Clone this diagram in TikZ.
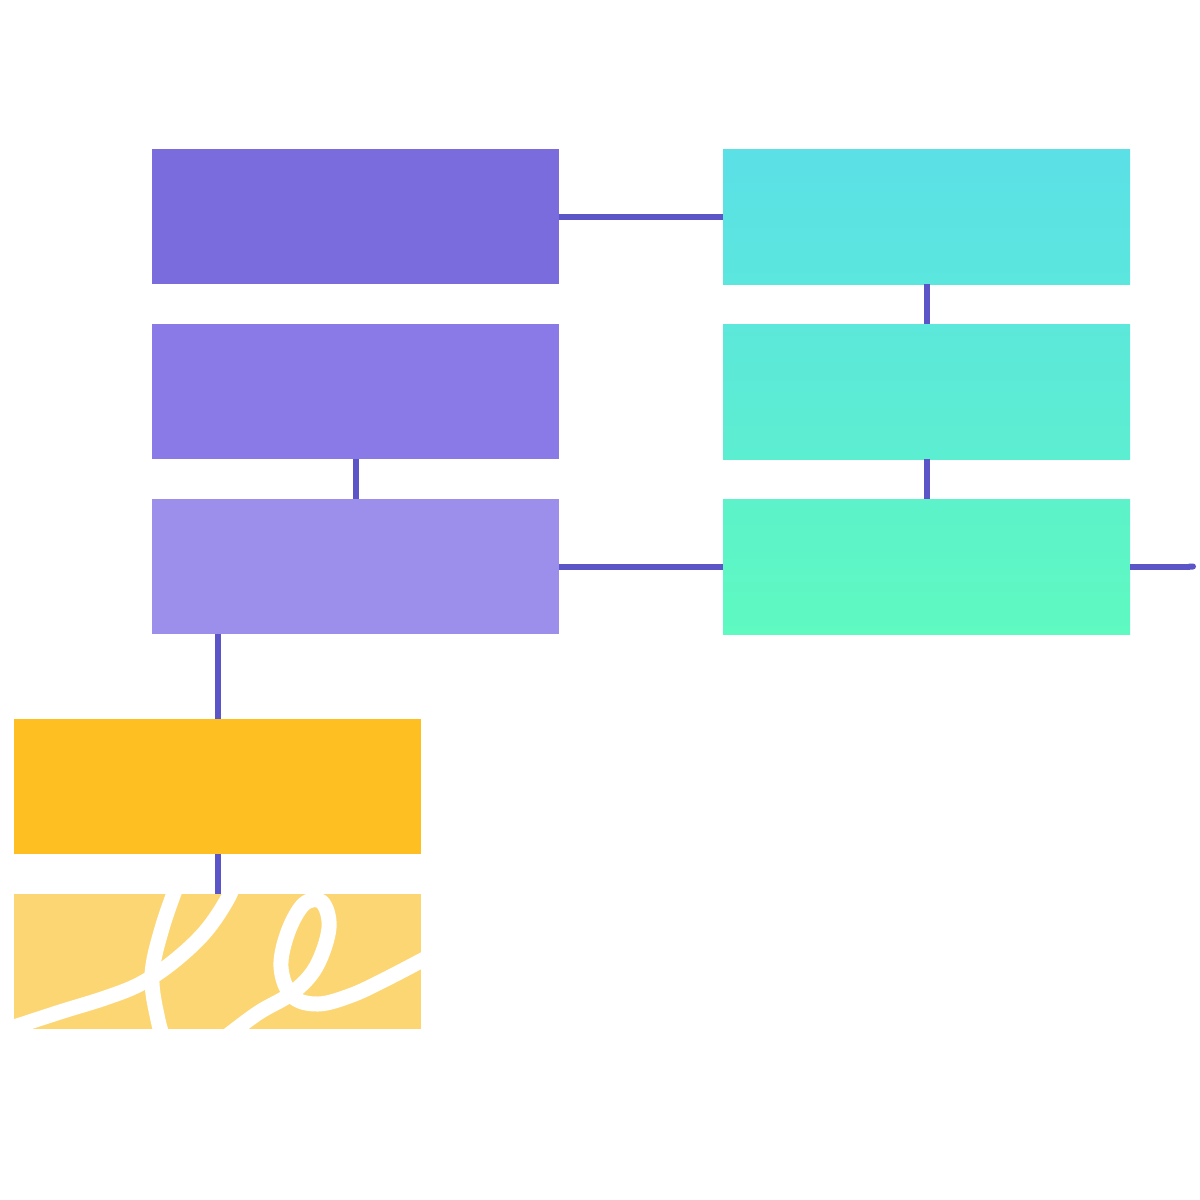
\documentclass[tikz,border=0pt]{standalone}
\usetikzlibrary{arrows.meta}

\definecolor{linkblue}{HTML}{5B55C8}
\definecolor{violetA}{HTML}{7B6CDD}
\definecolor{violetB}{HTML}{8A7AE8}
\definecolor{violetC}{HTML}{9B8FEB}
\definecolor{aquaAtop}{HTML}{5BE0E6}
\definecolor{aquaAbot}{HTML}{5BE6DE}
\definecolor{aquaBtop}{HTML}{5CE8DA}
\definecolor{aquaBbot}{HTML}{5CEED1}
\definecolor{aquaCtop}{HTML}{5DF2CA}
\definecolor{aquaCbot}{HTML}{5EFAC1}
\definecolor{amberA}{HTML}{FEBF22}
\definecolor{amberB}{HTML}{FDD674}

\begin{document}
\begin{tikzpicture}[x=0.5pt,y=-0.5pt,line width=3pt,draw=linkblue]
    \tikzstyle{block}=[rectangle,minimum width=203.5pt,minimum height=67.5pt,inner sep=0pt,outer sep=0pt]
    \tikzstyle{violet block}=[block]
    \tikzstyle{aqua block}=[block]
    \tikzstyle{amber block}=[block]
    \tikzstyle{scribble}=[white,line width=7.5pt,line cap=round,line join=round]

    \useasboundingbox (0,0) rectangle (1200,1200);

    % Left column
    \node[violet block,fill=violetA] (P-1) at (355.5,216.5) {};
    \node[violet block,fill=violetB] (P-2) at (355.5,391.5) {};
    \node[violet block,fill=violetC] (P-3) at (355.5,566.5) {};

    % Right column
    \foreach \name / \y / \c in {1/216.5/A,2/391.5/B,3/566.5/C}
        \node[aqua block,top color=aqua\c top,bottom color=aqua\c bot] (C-\name) at (926.5,\y) {};

    % Bottom column
    \node[amber block,fill=amberA] (Y-1) at (217.5,786.5) {};
    \node[amber block,fill=amberB] (Y-2) at (217.5,961.5) {};

    % Free end of the last line
    \coordinate (out) at (1196,566.5);

    % Connectors
    \draw (P-1.east) -- (C-1.west);
    \draw (P-3.east) -- (C-3.west);
    \draw (P-2.south) -- (P-3.north);
    \draw (C-1.south) -- (C-2.north);
    \draw (C-2.south) -- (C-3.north);
    \draw[-{Round Cap[]}] (C-3.east) -- (out);
    \draw (P-3.south -| Y-1.north) -- (Y-1.north);
    \draw (Y-1.south) -- (Y-2.north);

    % White scribble on the last block
    \begin{scope}
        \clip (Y-2.north west) rectangle (Y-2.south east);
        \draw[scribble] plot[smooth,tension=0.6] coordinates {(5,1030) (60,1012) (105,998) (140,984) (173,962) (205,932) (228,898) (238,872)};
        \draw[scribble] plot[smooth,tension=0.6] coordinates {(182,872) (163,925) (152,975) (158,1020) (166,1045)};
        \draw[scribble] plot[smooth,tension=0.6] coordinates {(222,1040) (258,1013) (292,993) (316,967) (329,928) (322,902) (304,904) (288,932) (281,967) (292,996) (318,1004) (352,995) (388,978) (430,956)};
    \end{scope}
\end{tikzpicture}
\end{document}
